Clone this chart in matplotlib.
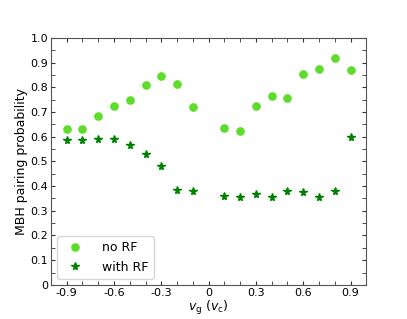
import matplotlib
matplotlib.use("Agg")
import matplotlib.pyplot as plt
import numpy as np

vg = [-0.9, -0.8, -0.7, -0.6, -0.5, -0.4, -0.3, -0.2, -0.1, 0.1, 0.2, 0.3, 0.4, 0.5, 0.6, 0.7, 0.8, 0.9]
no_rf = [0.63, 0.63, 0.685, 0.725, 0.75, 0.81, 0.845, 0.815, 0.72, 0.635, 0.625, 0.725, 0.765, 0.755, 0.855, 0.875, 0.92, 0.87]
with_rf = [0.585, 0.585, 0.59, 0.59, 0.565, 0.53, 0.48, 0.385, 0.38, 0.36, 0.355, 0.37, 0.355, 0.38, 0.375, 0.355, 0.38, 0.60]

xticks = [-0.9, -0.6, -0.3, 0, 0.3, 0.6, 0.9]
xticklabels = ["-0.9", "-0.6", "-0.3", "0", "0.3", "0.6", "0.9"]
yticks = [0, 0.1, 0.2, 0.3, 0.4, 0.5, 0.6, 0.7, 0.8, 0.9, 1.0]
yticklabels = ["0", "0.1", "0.2", "0.3", "0.4", "0.5", "0.6", "0.7", "0.8", "0.9", "1.0"]

fig = plt.figure(figsize=(4.07, 3.19), dpi=100)
ax = fig.add_axes([0.125, 0.107, 0.775, 0.774])
ax.plot(vg, no_rf, 'o', color='#5ddc2a', markersize=5.2, label='no RF', linestyle='none')
ax.plot(vg, with_rf, '*', color='green', markersize=5.8, label='with RF', linestyle='none')
ax.set_xlim(-1.0, 1.0)
ax.set_ylim(0, 1.0)
ax.set_xticks(xticks)
ax.set_xticklabels(xticklabels)
ax.set_yticks(yticks)
ax.set_yticklabels(yticklabels)
ax.set_xticks(np.arange(-1.0, 1.001, 0.1), minor=True)
ax.set_yticks(np.arange(0, 1.001, 0.05), minor=True)
ax.tick_params(which='both', direction='in', top=True, right=True, labelsize=8, length=3, color='#333333', pad=2)
for s in ax.spines.values():
    s.set_color('#555555')
    s.set_linewidth(0.8)
ax.set_xlabel(r'$v_{\rm g}\ (v_{\rm c})$', fontsize=9, labelpad=1)
ax.set_ylabel('MBH pairing probability', fontsize=9, labelpad=2)
ax.legend(loc='lower left', fontsize=9, handletextpad=1.2)
fig.savefig('out.png', dpi=100)
